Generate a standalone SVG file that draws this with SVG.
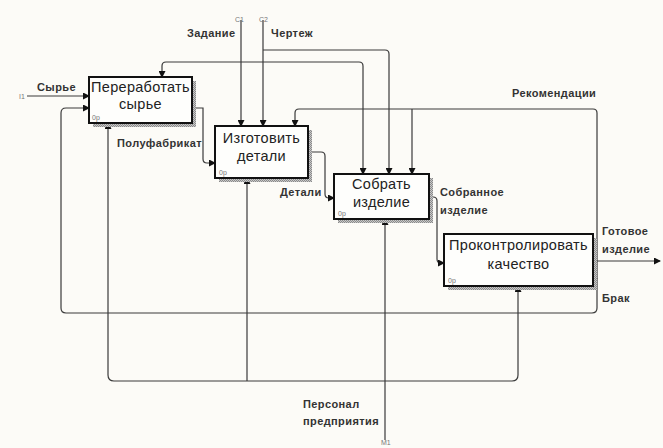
<svg xmlns="http://www.w3.org/2000/svg" width="663" height="448" viewBox="0 0 663 448">
<style>
.bg{fill:#fcfbf7}
.box{fill:#fefefc;stroke:#111;stroke-width:2}
.shadow{fill:url(#hatch)}
.c{fill:none;stroke:#3a3a3a;stroke-width:1.2}
.bt{font-family:"Liberation Sans",Arial,sans-serif;font-size:14.5px;letter-spacing:0.3px;fill:#222;text-anchor:middle}
.lb{font-family:"Liberation Sans",Arial,sans-serif;font-size:11px;letter-spacing:0.4px;font-weight:bold;fill:#333}
.sm{font-family:"Liberation Sans",Arial,sans-serif;font-size:7px;fill:#777}
</style>
<defs>
<pattern id="hatch" width="2" height="2" patternUnits="userSpaceOnUse">
<rect width="2" height="2" fill="#c8c8c8"/>
<rect width="1" height="1" fill="#8a8a8a"/>
<rect x="1" y="1" width="1" height="1" fill="#8a8a8a"/>
</pattern>
<marker id="ah" markerWidth="7" markerHeight="7" refX="6" refY="3.5" orient="auto" markerUnits="userSpaceOnUse">
<path d="M0,0 L7,3.5 L0,7 z" fill="#111"/>
</marker>
</defs>
<rect class="bg" width="663" height="448"/>

<g id="connectors">
<path class="c" d="M27,96 H89" marker-end="url(#ah)"/>
<path class="c" d="M241,20 V126" marker-end="url(#ah)"/>
<path class="c" d="M241,62 H166 Q162,62 162,66 V77" marker-end="url(#ah)"/>
<path class="c" d="M241,62 H359 Q363,62 363,66 V174" marker-end="url(#ah)"/>
<path class="c" d="M263,20 V126" marker-end="url(#ah)"/>
<path class="c" d="M263,50 H385 Q389,50 389,54 V174" marker-end="url(#ah)"/>
<path class="c" d="M593,278 H597 V113 Q597,109 593,109 H299 Q295,109 295,113 V126" marker-end="url(#ah)"/>
<path class="c" d="M412,109 V174" marker-end="url(#ah)"/>
<path class="c" d="M597,278 V308 Q597,313 592,313 H66 Q61,313 61,308 V113 Q61,108 66,108 H89" marker-end="url(#ah)"/>
<path class="c" d="M192,108 H203 V159 Q203,163 207,163 H215" marker-end="url(#ah)"/>
<path class="c" d="M308,152 H321 Q325,152 325,156 V194 Q325,198 329,198 H334" marker-end="url(#ah)"/>
<path class="c" d="M429,197 H433 Q437,197 437,201 V259 Q437,263 441,263 H444" marker-end="url(#ah)"/>
<path class="c" d="M593,261 H660" marker-end="url(#ah)"/>
<path class="c" d="M385,440 V219" marker-end="url(#ah)"/>
<path class="c" d="M385,381 H512 Q518,381 518,375 V286" marker-end="url(#ah)"/>
<path class="c" d="M385,381 H114 Q108,381 108,375 V123" marker-end="url(#ah)"/>
<path class="c" d="M247,381 V178" marker-end="url(#ah)"/>
</g>

<g id="labels">
<text class="sm" x="19" y="99">I1</text>
<text class="lb" x="37" y="91">Сырье</text>
<text class="sm" x="235" y="22">C1</text>
<text class="sm" x="259" y="22">C2</text>
<text class="lb" x="187" y="37">Задание</text>
<text class="lb" x="271" y="37">Чертеж</text>
<text class="lb" x="512" y="97">Рекомендации</text>
<text class="lb" x="117" y="147">Полуфабрикат</text>
<text class="lb" x="280" y="196">Детали</text>
<text class="lb" x="440" y="196">Собранное</text>
<text class="lb" x="440" y="214">изделие</text>
<text class="lb" x="602" y="235">Готовое</text>
<text class="lb" x="602" y="253">изделие</text>
<text class="lb" x="602" y="302">Брак</text>
<text class="lb" x="303" y="408">Персонал</text>
<text class="lb" x="303" y="425">предприятия</text>
<text class="sm" x="381" y="445">M1</text>
</g>

<g id="box1">
<rect class="shadow" x="93" y="81" width="103" height="46"/>
<rect class="box" x="89" y="77" width="103" height="46"/>
<text class="bt" x="140.5" y="92">Переработать</text>
<text class="bt" x="140.5" y="109">сырье</text>
<text class="sm" x="92" y="120">0р</text>
</g>

<g id="box2">
<rect class="shadow" x="219" y="130" width="93" height="52"/>
<rect class="box" x="215" y="126" width="93" height="52"/>
<text class="bt" x="261.5" y="143">Изготовить</text>
<text class="bt" x="261.5" y="161">детали</text>
<text class="sm" x="219" y="175">0р</text>
</g>

<g id="box3">
<rect class="shadow" x="338" y="178" width="95" height="45"/>
<rect class="box" x="334" y="174" width="95" height="45"/>
<text class="bt" x="381.5" y="189">Собрать</text>
<text class="bt" x="381.5" y="207">изделие</text>
<text class="sm" x="338" y="216">0р</text>
</g>

<g id="box4">
<rect class="shadow" x="448" y="238" width="149" height="52"/>
<rect class="box" x="444" y="234" width="149" height="52"/>
<text class="bt" x="518.5" y="250">Проконтролировать</text>
<text class="bt" x="518.5" y="269">качество</text>
<text class="sm" x="448" y="283">0р</text>
</g>
</svg>
